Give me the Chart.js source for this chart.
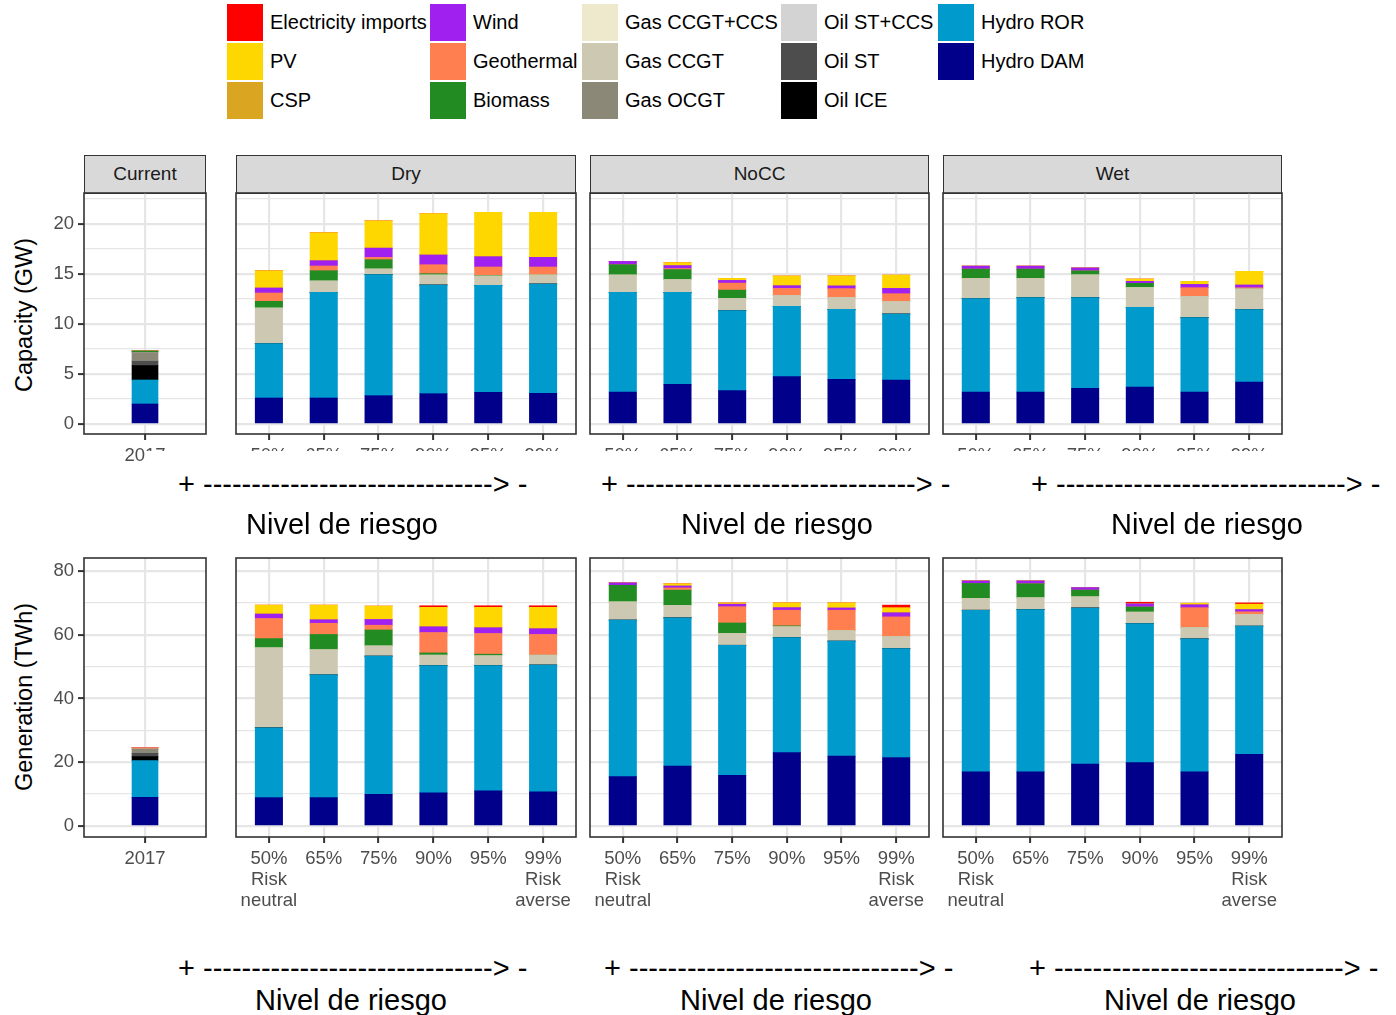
<!DOCTYPE html>
<html><head><meta charset="utf-8">
<script src="https://cdn.jsdelivr.net/npm/chart.js@4.4.1/dist/chart.umd.min.js"></script>
<style>
html,body{margin:0;padding:0;background:#fff;}
body{width:1396px;height:1015px;position:relative;overflow:hidden;font-family:"Liberation Sans",Arial,Helvetica,sans-serif;}
.key{position:absolute;width:36px;height:37px;}
.ltxt{position:absolute;font-size:20px;color:#000;line-height:37px;height:37px;white-space:nowrap;}
.strip{position:absolute;background:#D9D9D9;border:1.6px solid #333;box-sizing:border-box;text-align:center;color:#1A1A1A;font-size:19px;line-height:35px;}
.chartbox{position:absolute;z-index:1;}
.cover{position:absolute;background:#fff;z-index:5;}
.arrow{position:absolute;font-size:29px;color:#000;white-space:pre;line-height:34px;z-index:10;}
.nivel{position:absolute;font-size:29px;color:#000;white-space:nowrap;line-height:34px;transform:translateX(-50%);z-index:10;}
.ytitle{position:absolute;font-size:23.5px;color:#000;white-space:nowrap;line-height:28px;transform:translate(-50%,-50%) rotate(-90deg);}
</style>
</head><body>
<script>
// ---------- DATA ----------
const techs = ['Hydro DAM','Hydro ROR','Oil ICE','Oil ST','Oil ST+CCS','Gas OCGT','Gas CCGT','Gas CCGT+CCS','Biomass','Geothermal','Wind','CSP','PV','Electricity imports'];
const techColors = ['#00008B','#009ACD','#000000','#4D4D4D','#D3D3D3','#8B8878','#CDC8B1','#EEE8CD','#228B22','#FF7F50','#A020F0','#DAA520','#FFD700','#FF0000'];
const legendCols = [['Electricity imports','PV','CSP'],['Wind','Geothermal','Biomass'],['Gas CCGT+CCS','Gas CCGT','Gas OCGT'],['Oil ST+CCS','Oil ST','Oil ICE'],['Hydro ROR','Hydro DAM']];
const scenarioNames = ['Current','Dry','NoCC','Wet'];
const yearLabels = ['2017'];
const riskLabels = [['50%','Risk','neutral'],'65%','75%','90%','95%',['99%','Risk','averse']];
const capMajorTicks = [0,5,10,15,20];
const capMinorTicks = [2.5,7.5,12.5,17.5,22.5];
const genMajorTicks = [0,20,40,60,80];
const genMinorTicks = [10,30,50,70];
const capTitle = 'Capacity (GW)';
const genTitle = 'Generation (TWh)';
const arrowText = '+ ' + '-'.repeat(30) + '> -';
const riskText = 'Nivel de riesgo';

// Capacity (GW)
const capCurrent = {'Hydro DAM':[2.0],'Hydro ROR':[2.4],'Oil ICE':[1.45],'Oil ST':[0.45],'Gas OCGT':[0.85],'Biomass':[0.15],'PV':[0.05]};
const capDry = {
  'Hydro DAM':[2.6,2.6,2.83,3.03,3.17,3.07],
  'Hydro ROR':[5.43,10.57,12.1,10.87,10.7,10.93],
  'Gas CCGT':[3.57,1.13,0.57,1.0,0.93,0.9],
  'Biomass':[0.67,1.03,0.93,0.13,0.07,0],
  'Geothermal':[0.83,0.47,0.23,0.9,0.83,0.8],
  'Wind':[0.5,0.53,0.93,0.97,1.03,0.97],
  'PV':[1.73,2.8,2.73,4.13,4.43,4.5]};
const capNoCC = {
  'Hydro DAM':[3.2,3.97,3.33,4.73,4.47,4.4],
  'Hydro ROR':[9.97,9.2,8.0,7.03,7.0,6.6],
  'Gas CCGT':[1.73,1.27,1.23,1.1,1.2,1.23],
  'Biomass':[1.03,1.0,0.83,0,0,0],
  'Geothermal':[0,0.1,0.7,0.7,0.87,0.8],
  'Wind':[0.33,0.3,0.27,0.27,0.27,0.53],
  'PV':[0,0.3,0.2,0.97,1.0,1.33]};
const capWet = {
  'Hydro DAM':[3.2,3.2,3.57,3.7,3.2,4.2],
  'Hydro ROR':[9.33,9.43,9.07,7.97,7.43,7.23],
  'Gas CCGT':[2.03,1.93,2.27,1.97,2.13,2.07],
  'Biomass':[0.93,0.93,0.4,0.43,0,0],
  'Geothermal':[0,0,0,0,0.87,0.13],
  'Wind':[0.3,0.3,0.3,0.2,0.33,0.27],
  'PV':[0,0,0,0.23,0.3,1.37]};
// Generation (TWh)
const genCurrent = {'Hydro DAM':[9.0],'Hydro ROR':[11.5],'Oil ICE':[1.3],'Oil ST':[1.0],'Gas OCGT':[1.3],'Geothermal':[0.5]};
const genDry = {
  'Hydro DAM':[8.9,8.9,9.95,10.4,11.0,10.7],
  'Hydro ROR':[21.9,38.5,43.35,39.9,39.3,39.8],
  'Gas CCGT':[25.1,7.9,3.2,3.3,3.1,3.1],
  'Biomass':[2.9,4.8,5.0,0.7,0.5,0],
  'Geothermal':[6.3,3.5,1.5,6.4,6.5,6.5],
  'Wind':[1.4,1.1,1.8,1.8,1.8,1.8],
  'PV':[2.8,4.6,4.2,6.1,6.4,6.7],
  'Electricity imports':[0,0,0,0.5,0.5,0.5]};
const genNoCC = {
  'Hydro DAM':[15.5,18.8,15.9,23.0,21.9,21.5],
  'Hydro ROR':[49.1,46.5,40.8,36.1,36.1,34.2],
  'Gas CCGT':[5.7,3.9,3.7,3.4,3.3,3.7],
  'Biomass':[5.2,4.8,3.3,0.3,0,0],
  'Geothermal':[0,0.7,5.1,4.9,6.4,6.2],
  'Wind':[0.8,0.6,0.8,0.8,0.7,1.3],
  'PV':[0,0.7,0.4,1.5,1.6,1.6],
  'Electricity imports':[0,0,0,0,0,0.8]};
const genWet = {
  'Hydro DAM':[17.0,17.0,19.4,19.9,17.0,22.5],
  'Hydro ROR':[50.7,50.9,49.0,43.6,41.7,40.2],
  'Gas CCGT':[3.7,3.7,3.5,3.6,3.5,3.7],
  'Biomass':[4.7,4.4,2.1,1.6,0,0],
  'Geothermal':[0,0,0,0,6.3,0.8],
  'Wind':[0.8,0.9,0.8,1.0,0.9,0.7],
  'PV':[0,0,0,0,0.5,1.7],
  'Electricity imports':[0,0,0,0.5,0,0.4]};

// ---------- LAYOUT ----------
const FONT = '"Liberation Sans", Arial, Helvetica, sans-serif';
Chart.defaults.font.family = FONT;
const colX = [[84,122],[236,340],[590,339],[943,339]];
const topRow = {y:193, h:241, yMin:-1.0, yMax:23.1};
const botRow = {y:558, h:279, yMin:-3.45, yMax:84.08};
const GRID = '#E6E6E6';

function el(cls, css, text){
  const d=document.createElement('div'); d.className=cls;
  Object.assign(d.style, css); if(text!==undefined) d.textContent=text;
  document.body.appendChild(d); return d;
}

// legend
const legX=[227,430,582,781,938], legTY=[4,43,82];
legendCols.forEach((col,ci)=>col.forEach((name,ri)=>{
  el('key',{left:legX[ci]+'px',top:legTY[ri]+'px',background:techColors[techs.indexOf(name)]});
  el('ltxt',{left:(legX[ci]+43)+'px',top:legTY[ri]+'px'},name);
}));

// strips
scenarioNames.forEach((n,i)=>{
  el('strip',{left:colX[i][0]+'px',top:'155px',width:colX[i][1]+'px',height:'39px'},n);
});

const borderPlugin = {id:'panelBorder', afterDatasetsDraw(chart){
  const {ctx, chartArea:a} = chart; ctx.save(); ctx.strokeStyle='#333'; ctx.lineWidth=1.6;
  ctx.strokeRect(a.left, a.top, a.right-a.left, a.bottom-a.top); ctx.restore(); }};

function makePanel(x, w, row, data, cats, majors, minors, showY, barW){
  const L=50,R=50,T=24,B=90;
  const W=w+L+R, H=row.h+T+B;
  const div=el('chartbox',{left:(x-L)+'px',top:(row.y-T)+'px',width:W+'px',height:H+'px'});
  const cv=document.createElement('canvas'); cv.width=W; cv.height=H; div.appendChild(cv);
  const xs=cats.map((_,i)=>i+1);
  const yW = showY ? 46 : 0;
  const allTicks=[...majors,...minors].sort((a,b)=>a-b);
  const datasets=techs.map((t,ti)=>({
    label:t, stack:'s', backgroundColor:techColors[ti], borderWidth:0, barThickness:barW,
    data:(data[t]||xs.map(()=>0)).map((v,i)=>({x:xs[i],y:v}))
  }));
  new Chart(cv,{type:'bar',data:{datasets},plugins:[borderPlugin],options:{
    responsive:false, animation:false, devicePixelRatio:1,
    layout:{padding:{left:L-yW,right:R,top:T,bottom:0}},
    plugins:{legend:{display:false},tooltip:{enabled:false}},
    scales:{
      x:{type:'linear',stacked:true,min:0.4,max:cats.length+0.6,offset:false,
        afterBuildTicks:s=>{s.ticks=xs.map(v=>({value:v}));},
        afterFit:s=>{s.height=B;},
        border:{display:false},
        grid:{offset:false,color:GRID,lineWidth:2.2,tickColor:'#333',tickLength:6,tickWidth:2,drawTicks:true},
        ticks:{autoSkip:false,maxRotation:0,minRotation:0,padding:5,color:'#4D4D4D',
          font:{size:18.5,lineHeight:'21px'},callback:(v,i)=>cats[i]}},
      y:{type:'linear',stacked:true,min:row.yMin,max:row.yMax,
        afterBuildTicks:s=>{s.ticks=allTicks.map(v=>({value:v}));},
        afterFit:s=>{s.width=yW;},
        border:{display:false},
        grid:{color:GRID,
          lineWidth:c=>(c.tick&&majors.includes(c.tick.value))?2.2:1.3,
          tickColor:c=>(c.tick&&majors.includes(c.tick.value))?'#333':'rgba(0,0,0,0)',
          tickLength:6,tickWidth:2,drawTicks:showY},
        ticks:{display:showY,padding:4,color:'#4D4D4D',font:{size:18.5,lineHeight:'21px'},
          callback:v=>majors.includes(v)?String(v):''}}
    }}});
}

const capData=[capCurrent,capDry,capNoCC,capWet];
const genData=[genCurrent,genDry,genNoCC,genWet];
for(let i=0;i<4;i++){
  const cats = i===0 ? yearLabels : riskLabels;
  const bw = i===0 ? 26 : 27.4;
  makePanel(colX[i][0],colX[i][1],topRow,capData[i],cats,capMajorTicks,capMinorTicks,i===0,bw);
  makePanel(colX[i][0],colX[i][1],botRow,genData[i],cats,genMajorTicks,genMinorTicks,i===0,bw);
}

// cover the clipped top-row tick labels
el('cover',{left:'145px',top:'451px',width:'1251px',height:'66px'});

// axis titles
el('ytitle',{left:'24px',top:'315px'},capTitle);
el('ytitle',{left:'24px',top:'697px'},genTitle);

// annotations
[[178,467],[601,467],[1031,467],[178,951],[604,951],[1029,951]].forEach(p=>{
  el('arrow',{left:p[0]+'px',top:p[1]+'px'},arrowText);
});
[[342,507],[777,507],[1207,507],[351,983],[776,983],[1200,983]].forEach(p=>{
  el('nivel',{left:p[0]+'px',top:p[1]+'px'},riskText);
});
</script>
</body></html>
